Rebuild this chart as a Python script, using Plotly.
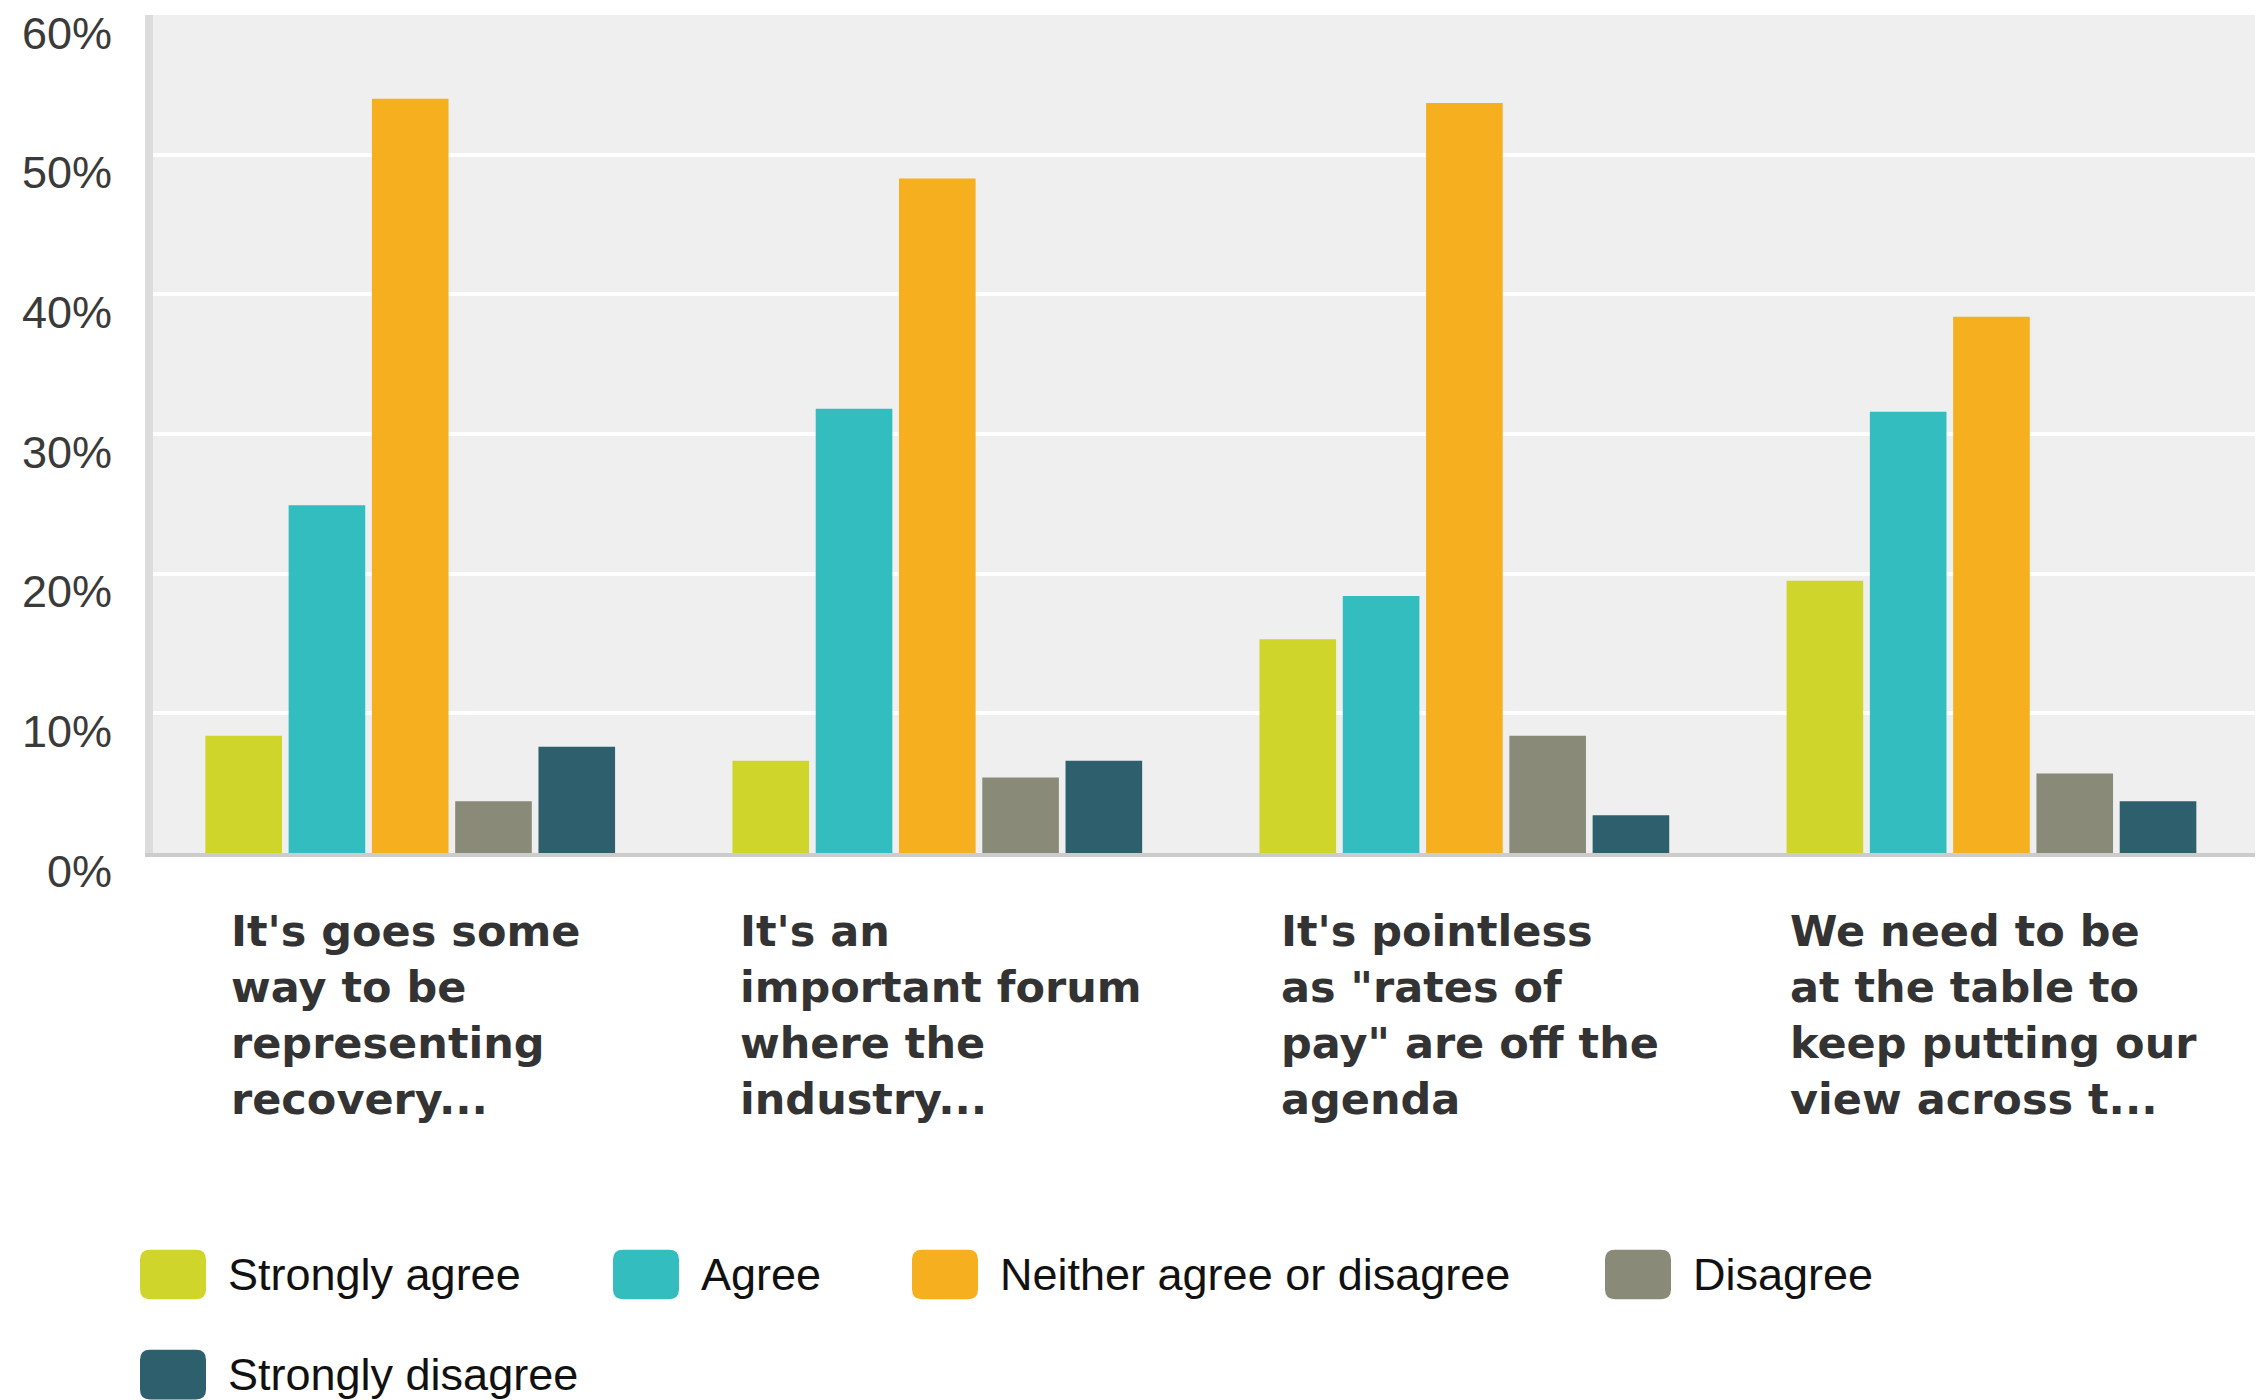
import plotly.graph_objects as go

categories = [
    "It's goes some<br>way to be<br>representing<br>recovery...",
    "It's an<br>important forum<br>where the<br>industry...",
    "It's pointless<br>as \"rates of<br>pay\" are off the<br>agenda",
    "We need to be<br>at the table to<br>keep putting our<br>view across t...",
]
series_names = ["Strongly agree", "Agree", "Neither agree or disagree", "Disagree", "Strongly disagree"]
series_colors = ["#CFD52A", "#33BDBF", "#F6AF1F", "#8A8A78", "#2D5F6D"]
strongly_agree = [8.4, 6.6, 15.3, 19.5]
agree = [24.9, 31.8, 18.4, 31.6]
neither = [54.0, 48.3, 53.7, 38.4]
disagree = [3.7, 5.4, 8.4, 5.7]
strongly_disagree = [7.6, 6.6, 2.7, 3.7]
y_ticks = [0, 10, 20, 30, 40, 50, 60]
y_tick_labels = ["0%", "10%", "20%", "30%", "40%", "50%", "60%"]

series_values = [strongly_agree, agree, neither, disagree, strongly_disagree]

W_FIG, H_FIG = 2263, 1400
L, R, T, B = 153, 2255, 8, 853
PW, PH = R - L, B - T


def px(x):
    return (x - L) / PW


def py(y):
    return (B - y) / PH


fig = go.Figure()
for name, color, vals in zip(series_names, series_colors, series_values):
    fig.add_trace(go.Bar(x=categories, y=vals, name=name,
                         marker=dict(color=color, line=dict(width=0)),
                         showlegend=False))

# category labels (left-aligned lines, block centred on the category)
annotations = []
label_shift = [-5, 4, 6, 2]
for cat, xs in zip(categories, label_shift):
    annotations.append(dict(
        x=cat, xref="x", y=py(1016), yref="paper", yanchor="middle", xanchor="center",
        xshift=xs, text=cat, align="left", showarrow=False,
        font=dict(family="DejaVu Sans", size=43, color="#333333", weight="bold"),
    ))

# custom legend
legend_rows = [(1278, [140, 613, 912, 1605]), (1379, [140])]
positions = []
for cy, xs in legend_rows:
    for x in xs:
        positions.append((x, cy))

shapes = []
sw, sh, r = 66, 50, 10
for (x0p, cy), name, color in zip(positions, series_names, series_colors):
    x0, x1 = px(x0p), px(x0p + sw)
    y1, y0 = py(cy - sh / 2), py(cy + sh / 2)
    rx, ry = r / PW, r / PH
    path = (f"M{x0+rx},{y0} H{x1-rx} Q{x1},{y0} {x1},{y0+ry} V{y1-ry} Q{x1},{y1} {x1-rx},{y1} "
            f"H{x0+rx} Q{x0},{y1} {x0},{y1-ry} V{y0+ry} Q{x0},{y0} {x0+rx},{y0} Z")
    shapes.append(dict(type="path", xref="paper", yref="paper", path=path,
                       fillcolor=color, line=dict(width=0), layer="above"))
    annotations.append(dict(
        x=px(x0p + sw + 20), xref="paper", y=py(cy), yref="paper",
        xanchor="left", yanchor="middle", text=name, showarrow=False,
        font=dict(family="Liberation Sans", size=45, color="#111111"),
    ))

fig.update_layout(
    width=W_FIG, height=H_FIG,
    margin=dict(l=L, r=W_FIG - R, t=T, b=H_FIG - B, pad=0),
    paper_bgcolor="white", plot_bgcolor="#EFEFEF",
    barmode="group", bargap=0.21, bargroupgap=0.08,
    annotations=annotations, shapes=shapes,
    showlegend=False,
)
fig.update_xaxes(showticklabels=False, showgrid=False, zeroline=False,
                 range=[-0.488, 3.5],
                 showline=True, linecolor="#CCCCCC", linewidth=4, ticks="")
fig.update_yaxes(range=[0, 60], tickvals=y_ticks, ticktext=y_tick_labels,
                 showgrid=True, gridcolor="white", gridwidth=4, zeroline=False,
                 showline=True, linecolor="#DCDCDC", linewidth=8, ticks="",
                 ticklabelstandoff=24, ticklabelshift=18, ticklabeloverflow="allow",
                 tickfont=dict(family="Liberation Sans", size=45, color="#3A3A3A"))

fig.write_html("out.html", config={"displayModeBar": False},
               post_script="document.body.style.margin='0';")
